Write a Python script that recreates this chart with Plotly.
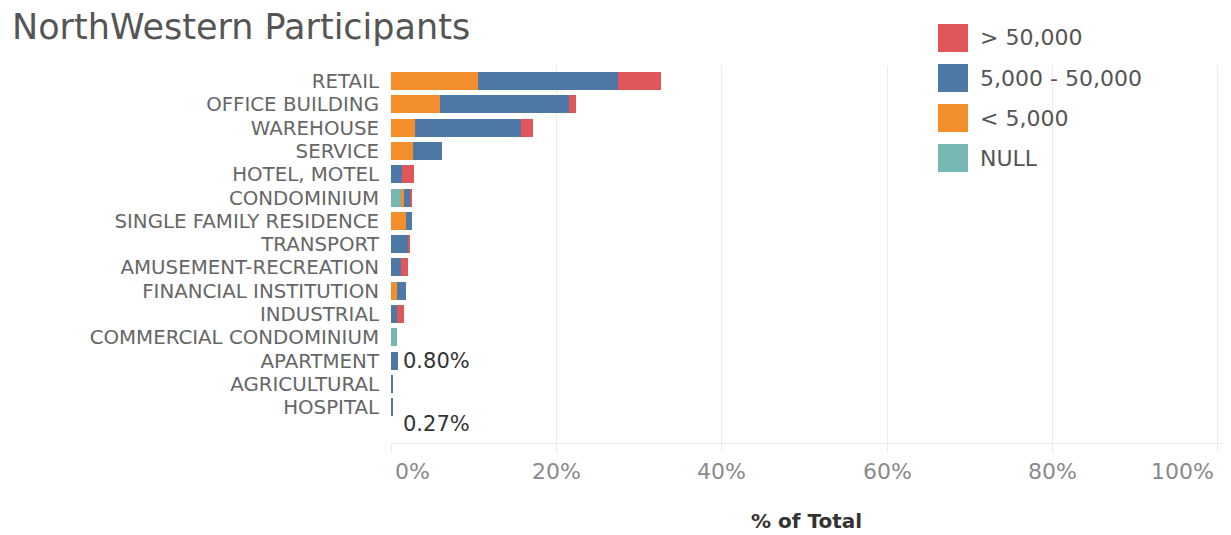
import plotly.graph_objects as go

categories = ["RETAIL", "OFFICE BUILDING", "WAREHOUSE", "SERVICE", "HOTEL, MOTEL",
              "CONDOMINIUM", "SINGLE FAMILY RESIDENCE", "TRANSPORT", "AMUSEMENT-RECREATION",
              "FINANCIAL INSTITUTION", "INDUSTRIAL", "COMMERCIAL CONDOMINIUM", "APARTMENT",
              "AGRICULTURAL", "HOSPITAL"]

null_vals  = [0, 0, 0, 0, 0, 1.25, 0, 0, 0, 0, 0, 0.77, 0, 0, 0]
small_vals = [10.5, 5.9, 2.9, 2.6, 0, 0.3, 1.78, 0, 0, 0.77, 0, 0, 0, 0, 0]
mid_vals   = [17.0, 15.6, 12.8, 3.6, 1.3, 0.77, 0.77, 2.06, 1.25, 1.0, 0.77, 0, 0.80, 0.22, 0.27]
large_vals = [5.2, 0.85, 1.5, 0, 1.5, 0.2, 0, 0.24, 0.8, 0, 0.77, 0, 0, 0, 0]

series_names = ["NULL", "< 5,000", "5,000 - 50,000", "> 50,000"]
series_vals = [null_vals, small_vals, mid_vals, large_vals]
series_colors = ["#76B7B2", "#F28E2B", "#4E79A7", "#E15759"]

legend_order = ["> 50,000", "5,000 - 50,000", "< 5,000", "NULL"]

label_cats = ["APARTMENT", "HOSPITAL"]
label_texts = ["0.80%", "0.27%"]
label_xshift = [3, 8]
label_yshift = [0, -17]

tick_vals = [0, 20, 40, 60, 80, 100]
tick_text = ["0%", "20%", "40%", "60%", "80%", "100%"]

FONT = "DejaVu Sans"

# page has an 8px body margin: figure pixel = page pixel - 8
W, H = 1223, 527
PL, PR, PT, PB = 383, 1214, 58, 435   # plot area in figure pixels
PW, PH = PR - PL, PB - PT

def px_x(page_x):
    return (page_x - 8 - PL) / PW

def px_y(page_y):
    return (PB - (page_y - 8)) / PH

fig = go.Figure()
for name, vals, col in zip(series_names, series_vals, series_colors):
    fig.add_trace(go.Bar(
        y=categories, x=vals, name=name, orientation="h",
        marker=dict(color=col, line=dict(width=0)),
        showlegend=False,
        hovertemplate="%{y}: %{x:.2f}%<extra>" + name + "</extra>",
    ))

totals = [sum(v) for v in zip(*series_vals)]

annotations = []
for cat, txt, xs, ys in zip(label_cats, label_texts, label_xshift, label_yshift):
    i = categories.index(cat)
    annotations.append(dict(
        x=totals[i], y=cat, xref="x", yref="y", text=txt, showarrow=False,
        xanchor="left", yanchor="middle", xshift=xs, yshift=ys,
        font=dict(family=FONT, size=21, color="#333333"),
    ))

# x tick labels (edge labels kept inside the pane, as in the original)
for tv, tt in zip(tick_vals, tick_text):
    xa, xs = "center", 0
    if tv == tick_vals[0]:
        xa, xs = "left", 2
    elif tv == tick_vals[-1]:
        xa, xs = "right", -2
    annotations.append(dict(
        x=tv, y=px_y(471), xref="x", yref="paper", text=tt, showarrow=False,
        xanchor=xa, yanchor="middle", xshift=xs,
        font=dict(family=FONT, size=22, color="#8a8a8a"),
    ))

# legend drawn as swatches + text
shapes = []
for k, name in enumerate(legend_order):
    col = series_colors[series_names.index(name)]
    top = 24 + k * 40
    shapes.append(dict(type="rect", xref="paper", yref="paper",
                       x0=px_x(938), x1=px_x(968), y0=px_y(top + 28), y1=px_y(top),
                       fillcolor=col, line=dict(width=0)))
    annotations.append(dict(
        x=px_x(978), y=px_y(top + 14), xref="paper", yref="paper",
        text=name, showarrow=False, xanchor="left", yanchor="middle",
        font=dict(family=FONT, size=22, color="#555555"),
    ))

# axis title
annotations.append(dict(
    x=0.5, y=px_y(521), xref="paper", yref="paper", text="<b>% of Total</b>",
    showarrow=False, xanchor="center", yanchor="middle",
    font=dict(family=FONT, size=20, color="#333333"),
))

# chart title
annotations.append(dict(
    x=px_x(10), y=px_y(27), xref="paper", yref="paper", text="NorthWestern Participants",
    showarrow=False, xanchor="left", yanchor="middle",
    font=dict(family=FONT, size=35, color="#555555"),
))

fig.update_layout(
    width=W, height=H,
    margin=dict(l=PL, r=W - PR, t=PT, b=H - PB, autoexpand=False),
    barmode="stack", bargap=0.23,
    plot_bgcolor="white", paper_bgcolor="white",
    xaxis=dict(range=[0, 100.5], tickmode="array", tickvals=tick_vals, showticklabels=False,
               showgrid=True, gridcolor="#ebebeb", gridwidth=1,
               zeroline=False, showline=True, linecolor="#ebebeb", linewidth=1,
               ticks="outside", ticklen=9, tickcolor="#ebebeb",
               automargin=False, fixedrange=True),
    yaxis=dict(categoryorder="array", categoryarray=categories,
               tickmode="array", tickvals=categories,
               range=[15.54, -0.65], showgrid=False, zeroline=False,
               showline=False, ticks="", ticklabelstandoff=11,
               tickfont=dict(family=FONT, size=19.8, color="#666666"),
               automargin=False, fixedrange=True),
    annotations=annotations, shapes=shapes,
)

fig.write_html("out.html")
